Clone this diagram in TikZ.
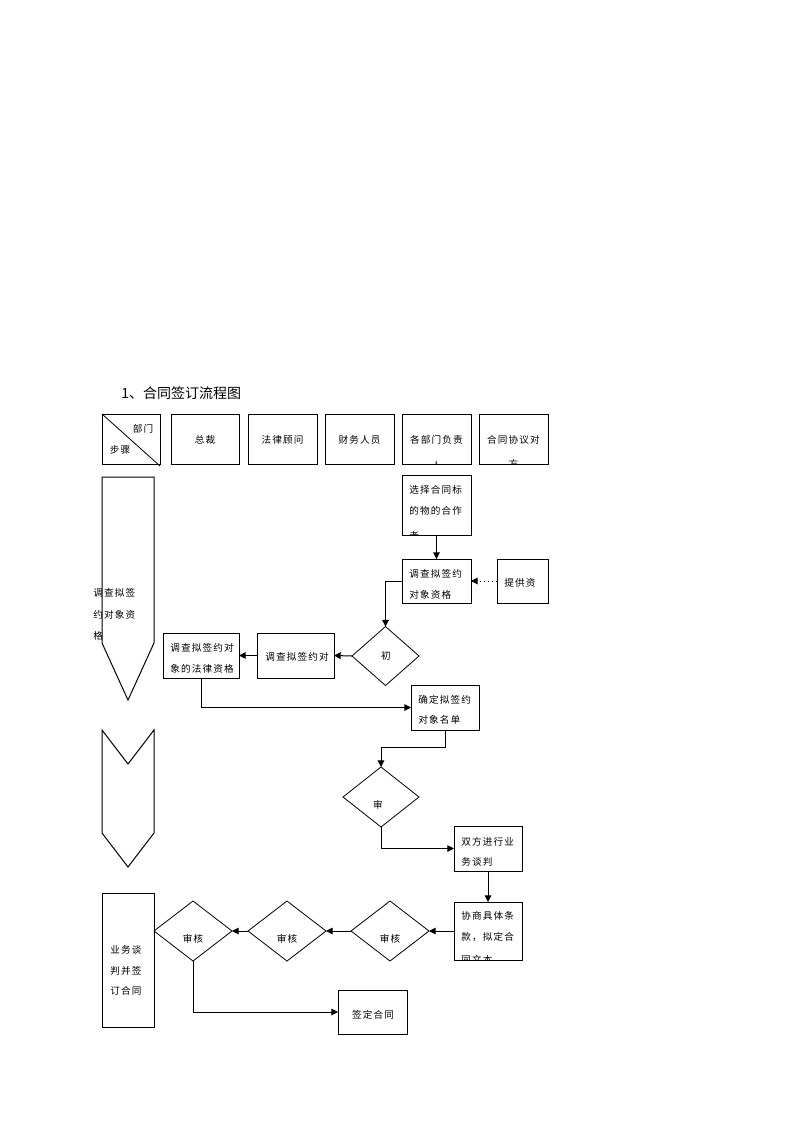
\documentclass[tikz,border=0pt]{standalone}
\usepackage{fontspec}
\usetikzlibrary{arrows.meta,shapes.geometric,calc}
\newfontfamily\cjk[LetterSpace=12]{Noto Sans CJK SC}
\newfontfamily\cjkt{Noto Sans CJK SC}
\tikzset{
  boxs/.style={draw, line width=0.75pt, inner sep=0pt, outer sep=0pt},
  dms/.style={draw, diamond, line width=0.6pt, inner sep=0pt, outer sep=0pt},
  txt/.style={inner sep=0pt, font=\cjk\fontsize{7.2pt}{9pt}\selectfont},
  arr/.style={line width=0.75pt, -{Triangle[length=5pt,width=5pt]}},
  shp/.style={line width=0.75pt, line join=miter}
}
\newcommand\bx[5]{\node[boxs, minimum width={(#4-#2)*0.75pt}, minimum height={(#5-#3)*0.75pt}] (#1) at ({(#2+#4)/2},{(#3+#5)/2}) {};}
\newcommand\dm[5]{\node[dms, minimum width={#4*0.75pt}, minimum height={#5*0.75pt}] (#1) at (#2,#3) {};}
\newcommand\lt[3]{\node[txt, anchor=west] at (#1,#2) {#3};}
\newcommand\ct[3]{\node[txt] at (#1,#2) {#3};}
\begin{document}
\begin{tikzpicture}[x=0.75pt,y=-0.75pt]
\useasboundingbox (0,0) rectangle (794,1123);
% title
\node[inner sep=0pt, anchor=west, font=\cjkt\fontsize{10.5pt}{12pt}\selectfont] (title) at (121,393) {1、合同签订流程图};
% header
\bx{h1}{102}{414}{160}{464}
\draw[line width=0.6pt] (h1.north west) -- (160,466);
\ct{143}{429}{部门}
\ct{120}{450}{步骤}
\bx{h2}{171}{414}{239}{464}
\ct{205}{440}{总裁}
\bx{h3}{248}{414}{317}{464}
\ct{282.5}{440}{法律顾问}
\bx{h4}{325}{414}{394}{464}
\ct{359.5}{440}{财务人员}
\bx{h5}{402}{414}{471}{464}
\ct{436.5}{440}{各部门负责}
\begin{scope}\clip (h5.south west) rectangle (h5.north east); \ct{436.5}{466}{人} \end{scope}
\bx{h6}{479}{414}{548}{464}
\ct{513.5}{440}{合同协议对}
\begin{scope}\clip (h6.south west) rectangle (h6.north east); \ct{513.5}{464}{方} \end{scope}
% left column shapes
\draw[shp] (102,477) -- (154,477) -- (154,643) -- (128,700) -- (102,643) -- cycle;
\lt{93}{593}{调查拟签}
\lt{93}{615}{约对象资}
\lt{93}{636}{格}
\draw[shp] (102,730) -- (128,764) -- (154,730) -- (154,833) -- (128,867) -- (102,833) -- cycle;
\bx{L3}{102}{893}{154}{1027}
\lt{110}{950}{业务谈}
\lt{110}{971}{判并签}
\lt{110}{991}{订合同}
% flow boxes
\bx{A}{402}{475}{471}{535}
\lt{409}{490}{选择合同标}
\lt{409}{511}{的物的合作}
\begin{scope}\clip (A.south west) rectangle (A.north east); \lt{409}{536}{者} \end{scope}
\bx{B}{402}{559}{471}{603}
\lt{409}{574}{调查拟签约}
\lt{409}{595}{对象资格}
\bx{C}{497}{559}{548}{603}
\lt{504}{583}{提供资}
\dm{D1}{385.5}{656}{67}{59}
\ct{386}{656}{初}
\bx{E}{257}{633}{334}{678}
\lt{265}{657}{调查拟签约对}
\bx{F}{163}{633}{239}{678}
\lt{170}{648}{调查拟签约对}
\lt{170}{669}{象的法律资格}
\bx{G}{411}{685}{479}{730}
\lt{418}{700}{确定拟签约}
\lt{418}{720}{对象名单}
\dm{D2}{381}{797}{76}{60}
\ct{378}{805}{审}
\bx{H}{454}{826}{522}{871}
\lt{461}{842}{双方进行业}
\lt{461}{862}{务谈判}
\bx{I}{454}{902}{522}{960}
\lt{461}{916}{协商具体条}
\lt{461}{937}{款，拟定合}
\begin{scope}\clip (I.south west) rectangle (I.north east); \lt{461}{960}{同文本} \end{scope}
\dm{D3}{390}{931}{78}{60}
\ct{390}{939}{审核}
\dm{D4}{287}{931}{78}{60}
\ct{287}{939}{审核}
\dm{D5}{193}{931}{78}{60}
\ct{193}{939}{审核}
\bx{J}{338}{990}{407}{1034}
\ct{373}{1015}{签定合同}
% connectors
\draw[arr] (A.south) -- (B.north);
\draw[arr, dash pattern=on 0.6pt off 2.4pt] (C.west) -- (B.east);
\draw[arr] (B.west) -| (D1.north);
\draw[arr] (D1.west) -- (E.east);
\draw[arr] (E.west) -- (F.east);
\draw[arr] (F.south) |- (G.west);
\draw[arr] (G.south) -- ++(0,17) -| (D2.north);
\draw[arr] (D2.south) |- (H.west);
\draw[arr] (H.south) -- (H.south |- I.north);
\draw[arr] (I.west) -- (D3.east);
\draw[arr] (D3.west) -- (D4.east);
\draw[arr] (D4.west) -- (D5.east);
\draw[arr] (D5.south) |- (J.west);
\end{tikzpicture}
\end{document}
